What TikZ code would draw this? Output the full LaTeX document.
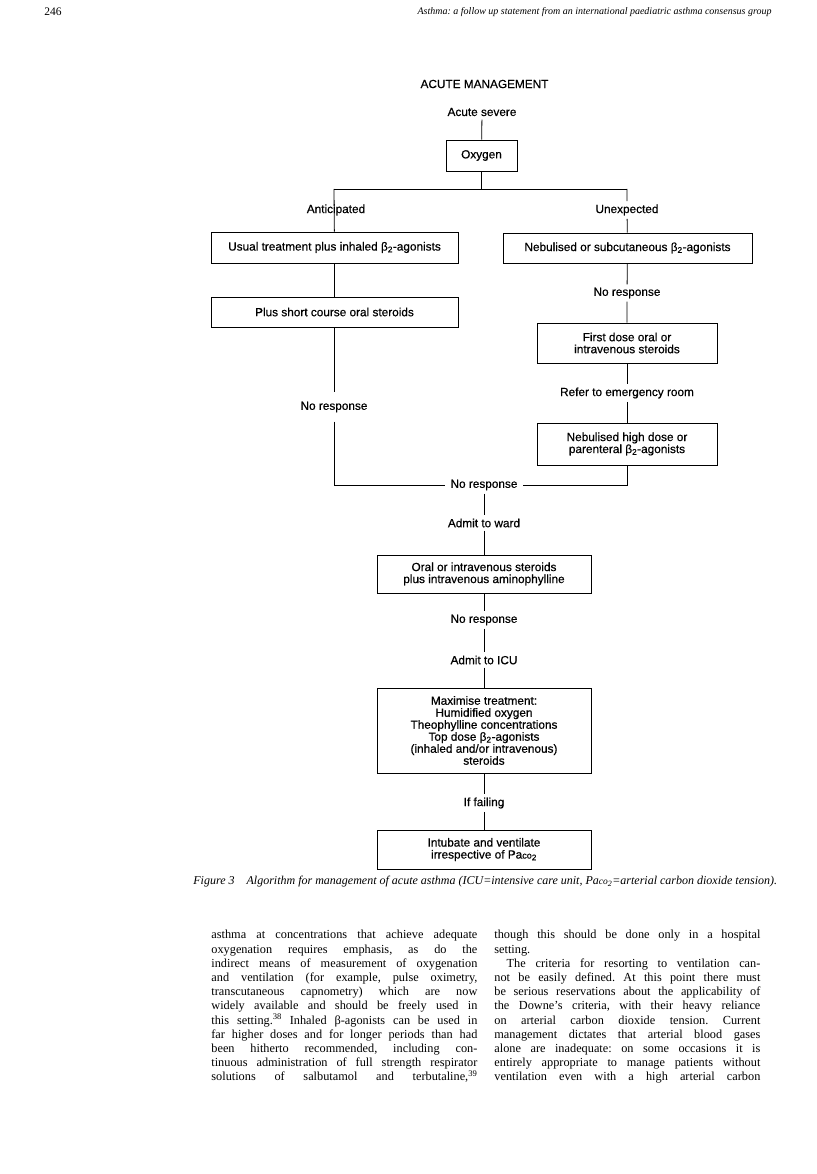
\documentclass[tikz,border=0pt]{standalone}
\usepackage{fontspec}
\setmainfont{Liberation Serif}
\setsansfont{Liberation Sans}
\newfontfamily\chartfont[FakeBold=0.5]{Liberation Sans}
\newcommand{\pacotwo}{Pa{\fontsize{9}{10}\selectfont co}\textsubscript{2}}
\newcommand{\btwo}{β\textsubscript{2}}
\frenchspacing
\begin{document}
\begin{tikzpicture}[x=1pt, y=-1pt, line width=0.8pt,
  stepbox/.style={draw, rectangle, align=center, inner sep=2pt,
    font=\chartfont\fontsize{11.8}{12}\selectfont},
  lbl/.style={inner sep=3pt, font=\chartfont\fontsize{11.8}{12}\selectfont},
  bodytext/.style={anchor=north west, inner sep=0pt, text width=266pt, align=justify,
    font=\rmfamily\fontsize{12.3}{14.2}\selectfont}]
  \useasboundingbox (0,0) rectangle (816,1174);

  % --- page header ---
  \node[anchor=west, inner sep=0pt, font=\fontsize{11.5}{12}\selectfont] (pagenum) at (44,12) {246};
  \node[anchor=east, inner sep=0pt, font=\itshape\fontsize{10}{12}\selectfont] (runhead) at (772,12)
    {Asthma: a follow up statement from an international paediatric asthma consensus group};

  % --- top of the chart ---
  \node[lbl] (title) at (484.5,84) {ACUTE MANAGEMENT};
  \node[lbl] (acute) at (482,112) {Acute severe};
  \node[stepbox, minimum width=71, minimum height=31] (oxy) at (481.5,155.5) {Oxygen};
  \coordinate (split) at (481.5,189);
  \coordinate (lsplit) at (334,189);
  \coordinate (rsplit) at (627,189);

  % --- anticipated branch ---
  \node[lbl] (antic) at (336,210) {Anticipated};
  \node[stepbox, minimum width=247, minimum height=31] (usual) at (334.5,247.5)
    {Usual treatment plus inhaled \btwo-agonists};
  \node[stepbox, minimum width=247, minimum height=30] (plus) at (334.5,312)
    {Plus short course oral steroids};
  \node[lbl, inner ysep=9pt] (nrleft) at (334,407) {No response};

  % --- unexpected branch ---
  \node[lbl] (unexp) at (627,210) {Unexpected};
  \node[stepbox, minimum width=249, minimum height=30] (nebul) at (627.5,248)
    {Nebulised or subcutaneous \btwo-agonists};
  \node[lbl] (nrright) at (627,293) {No response};
  \node[stepbox, minimum width=180, minimum height=40] (first) at (627,343)
    {First dose oral or\\intravenous steroids};
  \node[lbl] (refer) at (627,393) {Refer to emergency room};
  \node[stepbox, minimum width=180, minimum height=42] (highdose) at (627,444)
    {Nebulised high dose or\\parenteral \btwo-agonists};

  % --- joined path ---
  \node[lbl, inner xsep=5pt] (nrjoin) at (484,485) {No response};
  \coordinate (ljoin) at (334,485);
  \coordinate (rjoin) at (627,485);
  \node[lbl] (ward) at (484,523) {Admit to ward};
  \node[stepbox, minimum width=214, minimum height=38] (oral) at (484,574)
    {Oral or intravenous steroids\\plus intravenous aminophylline};
  \node[lbl] (nrward) at (484,620) {No response};
  \node[lbl] (icu) at (484,660) {Admit to ICU};
  \node[stepbox, minimum width=214, minimum height=85] (maxim) at (484,730.5)
    {Maximise treatment:\\Humidified oxygen\\Theophylline concentrations\\
     Top dose \btwo-agonists\\(inhaled and/or intravenous)\\steroids};
  \node[lbl] (fail) at (484,803) {If failing};
  \node[stepbox, minimum width=214, minimum height=39] (intub) at (484,849.5)
    {Intubate and ventilate\\irrespective of \pacotwo};

  % === connectors ===
  \draw (acute) -- (oxy);
  \draw (oxy) -- (split);
  \draw (lsplit) -- (rsplit);
  \draw (lsplit) -- (usual);
  \draw (rsplit) -- (unexp) -- (nebul);
  \draw (usual) -- (plus);
  \draw (plus) -- (plus |- nrleft.north);
  \draw (nrleft) -- (ljoin) -- (nrjoin);
  \draw (nebul) -- (nrright) -- (first);
  \draw (first) -- (refer) -- (highdose);
  \draw (highdose) -- (rjoin) -- (nrjoin);
  \draw (nrjoin) -- (ward) -- (oral);
  \draw (oral) -- (nrward) -- (icu) -- (maxim);
  \draw (maxim) -- (fail) -- (intub);

  % --- caption ---
  \node[anchor=west, inner sep=0pt, font=\itshape\fontsize{12}{13}\selectfont] (caption) at (193,882)
    {Figure 3\quad Algorithm for management of acute asthma (ICU=intensive care unit,
     Pa{\fontsize{9.5}{10}\selectfont co}\textsubscript{2}=arterial carbon dioxide tension).};

  % --- running text, two columns ---
  \node[bodytext] (colleft) at (211,930) {%
    asthma at concentrations that achieve adequate\linebreak
    oxygenation requires emphasis, as do the\linebreak
    indirect means of measurement of oxygenation\linebreak
    and ventilation (for example, pulse oximetry,\linebreak
    transcutaneous capnometry) which are now\linebreak
    widely available and should be freely used in\linebreak
    this setting.\textsuperscript{38} Inhaled β-agonists can be used in\linebreak
    far higher doses and for longer periods than had\linebreak
    been hitherto recommended, including con-\linebreak
    tinuous administration of full strength respirator\linebreak
    solutions of salbutamol and terbutaline,\textsuperscript{39}\linebreak};
  \node[bodytext] (colright) at (494,930) {%
    though this should be done only in a hospital\linebreak
    setting.\\
    \hspace*{1em}The criteria for resorting to ventilation can-\linebreak
    not be easily defined. At this point there must\linebreak
    be serious reservations about the applicability of\linebreak
    the Downe's criteria, with their heavy reliance\linebreak
    on arterial carbon dioxide tension. Current\linebreak
    management dictates that arterial blood gases\linebreak
    alone are inadequate: on some occasions it is\linebreak
    entirely appropriate to manage patients without\linebreak
    ventilation even with a high arterial carbon\linebreak};
\end{tikzpicture}
\end{document}
